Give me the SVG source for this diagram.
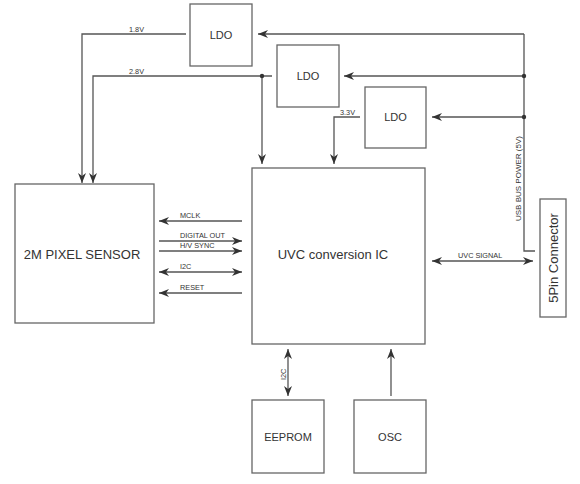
<svg xmlns="http://www.w3.org/2000/svg" width="580" height="484" viewBox="0 0 580 484">
<defs>
<marker id="ah" viewBox="0 0 10 8" refX="10" refY="4" markerWidth="10" markerHeight="8" markerUnits="userSpaceOnUse" orient="auto-start-reverse">
<path d="M0,0 L10,4 L0,8 L3,4 Z" fill="#333"/>
</marker>
</defs>
<style>
.box{fill:#fff;stroke:#666;stroke-width:1.3}
.ln{fill:none;stroke:#555;stroke-width:1.3}
.t{font-family:"Liberation Sans",Arial,sans-serif;fill:#333}
.big{font-size:13px}
.mid{font-size:11px}
.sm{font-size:7.3px}
</style>
<rect width="580" height="484" fill="#fff"/>
<g id="connectors">
<path class="ln" d="M186,34 H82 V183" marker-end="url(#ah)"/>
<path class="ln" d="M272,76 H93 V183" marker-end="url(#ah)"/>
<path class="ln" d="M262,76 V164" marker-end="url(#ah)"/>
<circle cx="262" cy="76" r="2.2" fill="#333"/>
<path class="ln" d="M360,117 H334 V164" marker-end="url(#ah)"/>
<path class="ln" d="M524,34 H258" marker-end="url(#ah)"/>
<path class="ln" d="M524,76 H344" marker-end="url(#ah)"/>
<path class="ln" d="M524,117 H432" marker-end="url(#ah)"/>
<path class="ln" d="M524,34 V251 H535"/>
<circle cx="524" cy="76" r="2.2" fill="#333"/>
<circle cx="524" cy="117" r="2.2" fill="#333"/>
<path class="ln" d="M242,221 H159" marker-end="url(#ah)"/>
<path class="ln" d="M159,241 H242" marker-end="url(#ah)"/>
<path class="ln" d="M159,251 H242" marker-end="url(#ah)"/>
<path class="ln" d="M159,272 H242" marker-start="url(#ah)" marker-end="url(#ah)"/>
<path class="ln" d="M242,293 H159" marker-end="url(#ah)"/>
<path class="ln" d="M432,261 H533" marker-start="url(#ah)" marker-end="url(#ah)"/>
<path class="ln" d="M288,349 V396" marker-start="url(#ah)" marker-end="url(#ah)"/>
<path class="ln" d="M391,396 V349" marker-end="url(#ah)"/>
<text class="t sm" x="129" y="32">1.8V</text>
<text class="t sm" x="129" y="74">2.8V</text>
<text class="t sm" x="340" y="115">3.3V</text>
<text class="t sm" x="180" y="218">MCLK</text>
<text class="t sm" x="180" y="238">DIGITAL OUT</text>
<text class="t sm" x="180" y="248">H/V SYNC</text>
<text class="t sm" x="180" y="269">I2C</text>
<text class="t sm" x="180" y="290">RESET</text>
<text class="t sm" x="458" y="258">UVC SIGNAL</text>
<text class="t" font-size="8" transform="translate(521,221) rotate(-90)">USB BUS POWER (5V)</text>
<text class="t sm" transform="translate(286,380) rotate(-90)">I2C</text>
</g>
<g id="ldo1"><rect class="box" x="190" y="4" width="62" height="62"/><text class="t mid" x="221" y="39" text-anchor="middle">LDO</text></g>
<g id="ldo2"><rect class="box" x="277" y="45" width="62" height="62"/><text class="t mid" x="308" y="80" text-anchor="middle">LDO</text></g>
<g id="ldo3"><rect class="box" x="365" y="87" width="61" height="61"/><text class="t mid" x="395.5" y="121" text-anchor="middle">LDO</text></g>
<g id="sensor"><rect class="box" x="15" y="184" width="139" height="139"/><text class="t big" x="82" y="259" text-anchor="middle">2M PIXEL SENSOR</text></g>
<g id="uvc"><rect class="box" x="252" y="168" width="173" height="176"/><text class="t big" x="333" y="259" text-anchor="middle">UVC conversion IC</text></g>
<g id="connector"><rect class="box" x="540" y="199" width="26" height="118"/><text class="t big" transform="translate(558,258) rotate(-90)" text-anchor="middle">5Pin Connector</text></g>
<g id="eeprom"><rect class="box" x="252" y="400" width="72" height="73"/><text class="t mid" x="288" y="441" text-anchor="middle">EEPROM</text></g>
<g id="osc"><rect class="box" x="354" y="400" width="72" height="73"/><text class="t mid" x="390" y="441" text-anchor="middle">OSC</text></g>
</svg>
